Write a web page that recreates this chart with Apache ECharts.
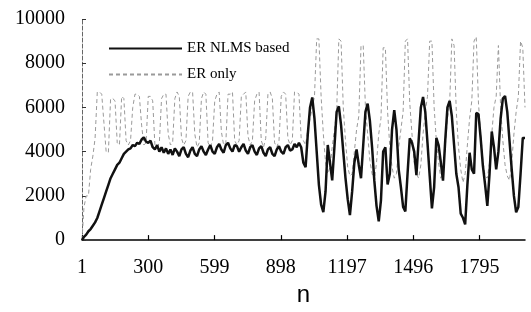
<!DOCTYPE html>
<html>
<head>
<meta charset="utf-8">
<script src="https://cdn.jsdelivr.net/npm/echarts@6/dist/echarts.min.js"></script>
<style>html,body{margin:0;padding:0;background:#fff}#c{width:531px;height:312px}</style>
</head>
<body>
<div id="c"></div>
<script>
// x tick labels
const xTicks = [1, 300, 599, 898, 1197, 1496, 1795];
// sample positions n = 1, 10, 20, ... 2000
const sampleN = [];
for (let n = 0; n <= 2000; n += 10) sampleN.push(n === 0 ? 1 : n);

// ER NLMS based (read every 10 samples)
const nlmsValues = [
  0,150,250,400,500,650,800,1000,1300,1600,
  1900,2200,2500,2800,3000,3200,3400,3500,3700,3900,
  4000,4100,4150,4300,4250,4400,4350,4550,4650,4450,
  4400,4500,4200,4100,4300,4000,4200,3950,4150,3900,
  4100,3850,4150,4000,3800,4100,4200,3900,3750,4050,
  4200,3900,3800,4100,4250,4000,3850,4100,4300,4000,
  3900,4200,4350,4100,3950,4300,4400,4150,4000,4300,
  4250,4000,4200,4350,4050,3900,4200,4300,4000,3850,
  4150,4250,3950,3800,4100,4200,3900,3800,4100,4250,
  4000,3900,4200,4300,4050,4100,4350,4200,4400,4200,
  3500,3300,4800,6000,6450,5500,4000,2500,1600,1260,
  2200,4300,3500,2700,4200,5800,6050,5200,4000,2800,
  1850,1130,2200,3500,4100,3400,2800,4300,5800,6170,
  5400,4200,2700,1550,850,1800,4000,4200,2520,3000,
  5000,5880,5000,3200,2400,1500,1300,3000,4600,4400,
  4000,2940,4500,6000,6470,5800,4400,2900,1430,2400,
  4620,4300,3530,2690,4500,6000,6300,5600,4300,3000,
  2390,1200,1010,710,2500,3950,3200,3000,5750,5700,
  4600,3360,2500,1550,3000,4910,4200,3200,4000,5500,
  6400,6520,5800,4500,3200,2000,1260,1500,3000,4620,
  4620
];

// ER only (read every 10 samples)
const erOnlyValues = [
  0,1500,2000,2000,3200,3800,4600,6700,6700,6600,
  5300,4000,3950,6400,6400,6300,4400,4300,6500,6400,
  4500,4300,4500,6000,6600,6600,6500,5200,4300,4400,
  6500,6500,6300,4300,4200,4400,6400,6600,6600,4800,
  4300,4400,6400,6700,6500,4600,4300,4500,6500,6700,
  6700,4800,4200,4400,6400,6700,6600,4400,4200,4500,
  6300,6600,6700,4900,4300,4400,6600,6600,6700,4500,
  4300,4500,6500,6600,6700,4700,4300,4500,6300,6600,
  6700,4500,4200,4600,6600,6700,6400,4400,4200,4500,
  6500,6700,6600,4600,4300,4500,6700,6700,6600,4600,
  4500,4300,5000,5500,6000,6500,9100,9100,6500,4800,
  3500,3000,3300,4200,5000,5800,9100,9000,6000,4500,
  3300,2900,3000,4000,5000,5600,8800,8800,6000,4800,
  3600,3000,2700,3500,4800,5500,8700,8700,5800,4200,
  3300,2800,3000,4200,5000,5800,9000,9100,6200,4800,
  3500,3000,2800,3400,4800,5800,6500,9000,9000,6000,
  4500,3500,2800,3000,4200,5500,6200,9100,8800,5800,
  4200,3200,2600,3000,4300,5500,6300,9000,9200,6200,
  4800,3600,2900,2800,3500,4800,6000,6500,8800,6000,
  4500,3400,2900,2700,3500,4800,5800,6500,9000,8700,
  6000
];

const seriesNames = ['ER NLMS based', 'ER only'];
const serif = 'Liberation Serif';

const chart = echarts.init(document.getElementById('c'), null, {renderer: 'canvas'});
chart.setOption({
  animation: false,
  backgroundColor: '#fff',
  grid: {left: 82, right: 6, top: 19, bottom: 55},
  legend: {
    data: seriesNames,
    orient: 'vertical',
    left: 103, top: 36,
    itemWidth: 73, itemHeight: 14, itemGap: 11,
    itemStyle: {opacity: 0},
    textStyle: {fontFamily: serif, fontSize: 15, color: '#000'}
  },
  xAxis: {
    type: 'value', min: 1, max: 2000,
    name: 'n', nameLocation: 'middle', nameGap: 34,
    nameTextStyle: {fontFamily: 'Liberation Sans', fontSize: 24, color: '#000'},
    axisLine: {lineStyle: {color: '#000', width: 1.5}},
    axisTick: {inside: true, length: 5, customValues: xTicks, lineStyle: {color: '#000', width: 1.2}},
    axisLabel: {customValues: xTicks, fontFamily: serif, fontSize: 20, color: '#000', margin: 18,
      formatter: v => String(v)},
    splitLine: {show: false}
  },
  yAxis: {
    type: 'value', min: 0, max: 10000, interval: 2000,
    axisLine: {show: true, lineStyle: {color: '#666', type: 'dashed', width: 1}},
    axisTick: {show: true, inside: true, length: 4, lineStyle: {color: '#333'}},
    axisLabel: {fontFamily: serif, fontSize: 20, color: '#000', margin: 17,
      formatter: v => String(v)},
    splitLine: {show: false}
  },
  series: [
    {
      name: seriesNames[1], type: 'line', symbol: 'none', z: 2,
      data: sampleN.map((n, i) => [n, erOnlyValues[i]]),
      lineStyle: {color: '#9a9a9a', width: 1, type: [4, 3]},
      itemStyle: {color: '#9a9a9a'}
    },
    {
      name: seriesNames[0], type: 'line', symbol: 'none', z: 3,
      data: sampleN.map((n, i) => [n, nlmsValues[i]]),
      lineStyle: {color: '#111', width: 2.5},
      itemStyle: {color: '#111'}
    }
  ]
});
</script>
</body>
</html>
